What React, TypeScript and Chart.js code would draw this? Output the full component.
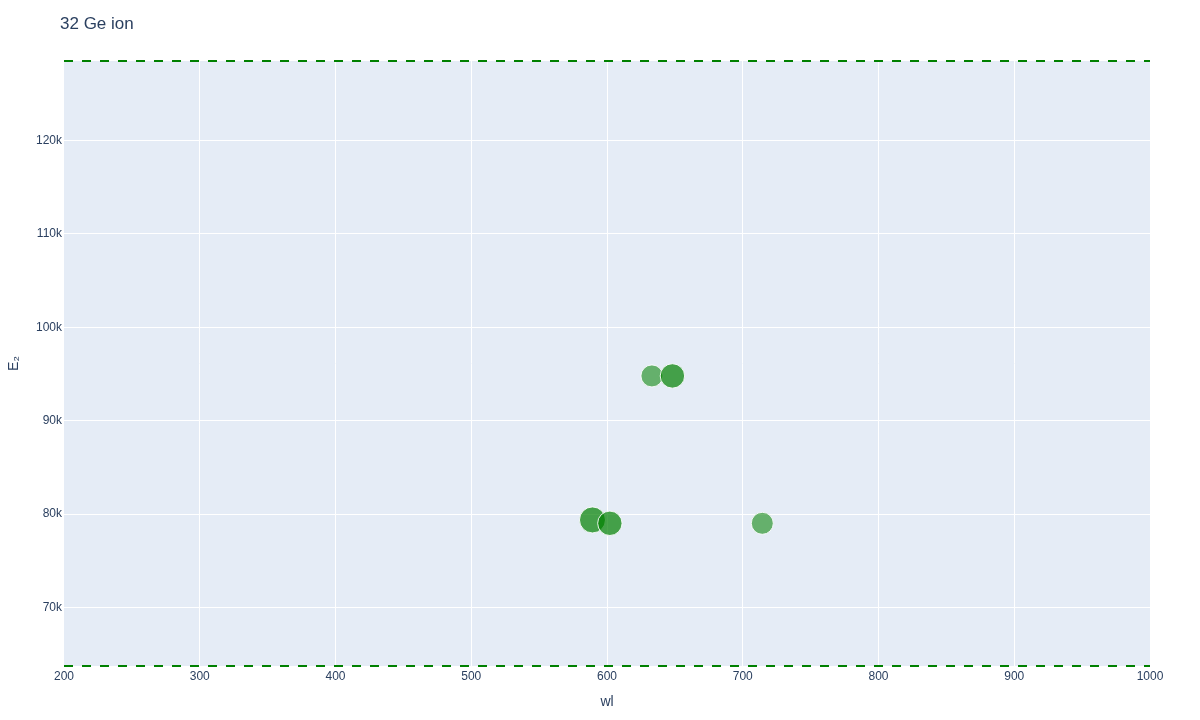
import React, { useEffect, useRef } from "react";
import { Chart, registerables } from "chart.js";

Chart.register(...registerables);

const TITLE = "32 Ge ion";
const X_TITLE = "wl";
const Y_TITLE = "E\u2082";

// spectral lines: wavelength (nm), upper level energy (cm-1), relative intensity
const wavelengths = [589.3, 602.1, 633.1, 648.2, 714.4];
const upperEnergies = [79366, 79007, 94784, 94784, 79007];
const intensities = [1000, 800, 500, 800, 500];

// dashed limit lines (y values) spanning the wavelength range
const limitLow = 63730;
const limitHigh = 128500;
const xRange = [200, 1000];

const xTicks = [200, 300, 400, 500, 600, 700, 800, 900, 1000];
const yTicks = [70000, 80000, 90000, 100000, 110000, 120000];

const FONT = "'Liberation Sans', Arial, sans-serif";
const TEXT = "#2a3f5f";

function radiusFor(i: number) {
  return 9 + (4 * i) / 1000;
}
function alphaFor(i: number) {
  return i >= 800 ? 0.7 : 0.56;
}

export default function App() {
  const ref = useRef<HTMLCanvasElement | null>(null);

  useEffect(() => {
    if (!ref.current) return;
    const bgPlugin = {
      id: "bg",
      beforeDraw(chart: any) {
        const { ctx, chartArea } = chart;
        ctx.save();
        ctx.fillStyle = "#E5ECF6";
        ctx.fillRect(chartArea.left, chartArea.top, chartArea.right - chartArea.left, chartArea.bottom - chartArea.top);
        ctx.restore();
      },
      afterDraw(chart: any) {
        const { ctx } = chart;
        ctx.save();
        ctx.fillStyle = TEXT;
        ctx.font = `17px ${FONT}`;
        ctx.textBaseline = "middle";
        ctx.textAlign = "left";
        ctx.fillText(TITLE, 60, 24);
        ctx.restore();
      },
    };

    const points = wavelengths.map((x, i) => ({ x, y: upperEnergies[i] }));

    const chart = new Chart(ref.current, {
      type: "scatter",
      data: {
        datasets: [
          {
            type: "line",
            data: xRange.map((x) => ({ x, y: limitHigh })),
            borderColor: "#008000",
            borderWidth: 2,
            borderDash: [9, 9],
            pointRadius: 0,
            fill: false,
            clip: false,
          } as any,
          {
            type: "line",
            data: xRange.map((x) => ({ x, y: limitLow })),
            borderColor: "#008000",
            borderWidth: 2,
            borderDash: [9, 9],
            pointRadius: 0,
            fill: false,
            clip: false,
          } as any,
          {
            type: "scatter",
            data: points,
            pointRadius: intensities.map(radiusFor),
            pointHoverRadius: intensities.map(radiusFor),
            backgroundColor: intensities.map((v) => `rgba(0,128,0,${alphaFor(v)})`),
            borderColor: "rgba(255,255,255,0.9)",
            borderWidth: 1,
            clip: false,
          } as any,
        ],
      },
      options: {
        responsive: true,
        maintainAspectRatio: false,
        animation: false,
        layout: { padding: { top: 61, right: 50, left: 0, bottom: 0 } },
        plugins: {
          legend: { display: false },
          title: { display: false },
          tooltip: { enabled: false },
        },
        scales: {
          x: {
            type: "linear",
            min: xRange[0],
            max: xRange[1],
            afterBuildTicks(scale: any) {
              scale.ticks = xTicks.map((v) => ({ value: v }));
            },
            afterFit(scale: any) {
              scale.height = 54;
            },
            grid: {
              color: (c: any) =>
                c.tick && (c.tick.value === xRange[0] || c.tick.value === xRange[1]) ? "rgba(0,0,0,0)" : "#ffffff",
              lineWidth: 1,
              drawTicks: false,
            },
            border: { display: false },
            ticks: {
              padding: 3,
              color: TEXT,
              font: { family: FONT, size: 12 },
              maxRotation: 0,
              autoSkip: false,
              callback: (v: any) => String(v),
            },
            title: {
              display: true,
              text: X_TITLE,
              color: TEXT,
              font: { family: FONT, size: 14 },
              padding: { top: 0, bottom: 9.6 },
            },
          },
          y: {
            type: "linear",
            min: limitLow,
            max: limitHigh,
            afterBuildTicks(scale: any) {
              scale.ticks = yTicks.map((v) => ({ value: v }));
            },
            afterFit(scale: any) {
              scale.width = 64;
            },
            grid: { color: "#ffffff", lineWidth: 1, drawTicks: false },
            border: { display: false },
            ticks: {
              padding: 2,
              color: TEXT,
              font: { family: FONT, size: 12 },
              autoSkip: false,
              callback: (v: any) => `${Math.round(Number(v) / 1000)}k`,
            },
            title: {
              display: true,
              text: Y_TITLE,
              color: TEXT,
              font: { family: FONT, size: 14 },
              padding: { top: 5.6, bottom: 0 },
            },
          },
        },
      },
      plugins: [bgPlugin],
    });
    return () => chart.destroy();
  }, []);

  return (
    <div style={{ position: "absolute", left: 0, top: 0, width: 1200, height: 720, background: "#fff" }}>
      <canvas ref={ref} />
    </div>
  );
}
